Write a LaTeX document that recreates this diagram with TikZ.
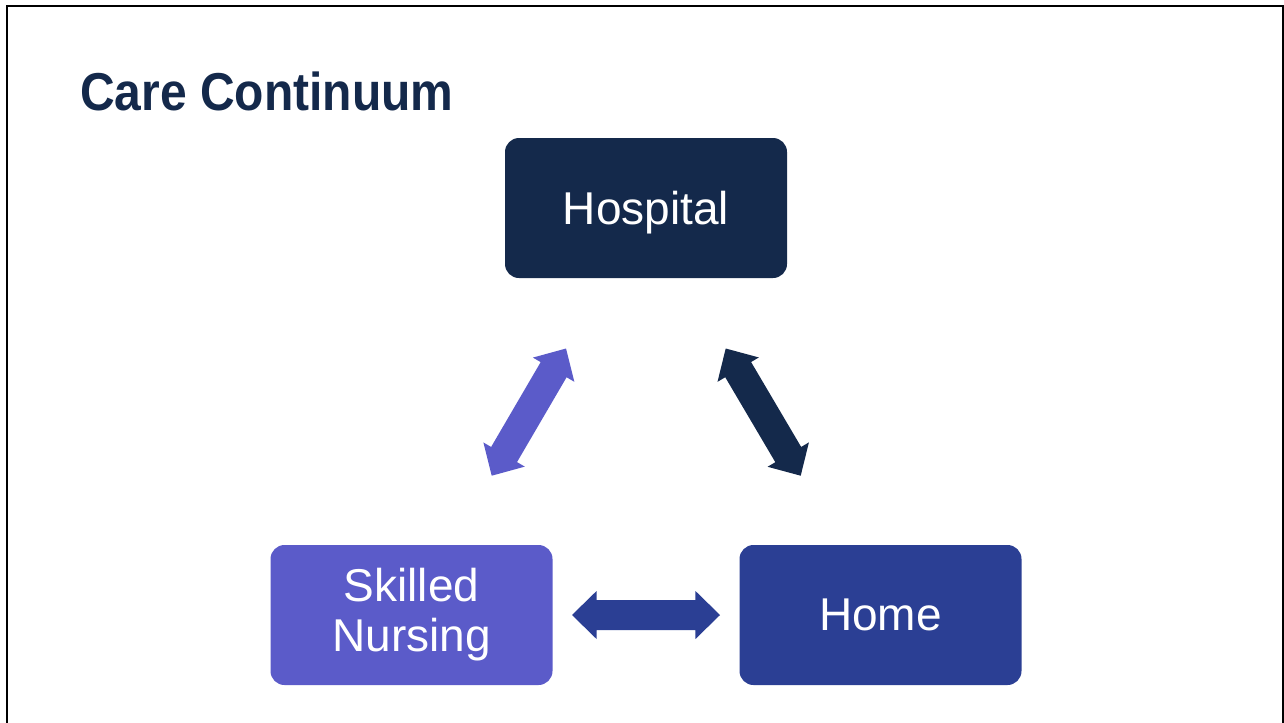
\documentclass[tikz,border=0pt]{standalone}
\usepackage{fontspec}
\setmainfont{Liberation Sans}
\newfontfamily\titlefont[FakeStretch=0.9]{Liberation Sans}
\usetikzlibrary{calc}

\definecolor{careNavy}{RGB}{20,41,75}
\definecolor{careViolet}{RGB}{91,91,201}
\definecolor{careBlue}{RGB}{43,63,148}

% geometry of the fat double arrows
\newcommand\ahl{18.4pt}  % head length
\newcommand\ahw{18pt}    % half width of the head
\newcommand\asw{11.25pt} % half width of the shaft

% filled double-headed arrow from #1 to #2
\newcommand\fatarrow[3]{%
  \fill[#3] (#1)
    -- ($(#1)!\ahl!(#2)!\ahw!90:(#2)$)
    -- ($(#1)!\ahl!(#2)!\asw!90:(#2)$)
    -- ($(#2)!\ahl!(#1)!\asw!-90:(#1)$)
    -- ($(#2)!\ahl!(#1)!\ahw!-90:(#1)$)
    -- (#2)
    -- ($(#2)!\ahl!(#1)!\ahw!90:(#1)$)
    -- ($(#2)!\ahl!(#1)!\asw!90:(#1)$)
    -- ($(#1)!\ahl!(#2)!\asw!-90:(#2)$)
    -- ($(#1)!\ahl!(#2)!\ahw!-90:(#2)$)
    -- cycle;}

\tikzset{
  stage/.style={rectangle, rounded corners=10.5pt, minimum width=211.5pt,
    minimum height=105pt, inner sep=0pt, text=white, align=center,
    font=\fontsize{34.5}{37.5}\selectfont},
  frame/.style={line width=1.5pt, draw=black, line join=miter},
}

\begin{document}
\begin{tikzpicture}[x=0.75pt, y=-0.75pt]
  \useasboundingbox (0,0) rectangle (1284,722);

  % slide frame, open at the bottom
  \draw[frame] (7,724) -- (7,6) -- (1282.5,6) -- (1282.5,724);

  % heading
  \node[anchor=base west, inner sep=0pt, text=careNavy,
        font=\titlefont\bfseries\fontsize{40}{48}\selectfont] (title) at (80,110) {Care Continuum};

  % the three care settings
  \node[stage, fill=careNavy, text depth=0pt] (hospital) at (646,208) {Hospital};
  \node[stage, fill=careViolet] (snf) at (411.5,615) {Skilled\\Nursing};
  \node[stage, fill=careBlue] (home) at (880.5,615) {Home};

  % arrow ends
  \coordinate (snfHospA) at (491.7,475.7);
  \coordinate (snfHospB) at (566,348.5);
  \coordinate (homeHospA) at (800.7,475.7);
  \coordinate (homeHospB) at (725.7,348.5);
  \coordinate (snfHomeA) at (572,615);
  \coordinate (snfHomeB) at (720,615);

  % transitions between settings
  \fatarrow{snfHospA}{snfHospB}{careViolet}
  \fatarrow{homeHospA}{homeHospB}{careNavy}
  \fatarrow{snfHomeA}{snfHomeB}{careBlue}
\end{tikzpicture}
\end{document}
